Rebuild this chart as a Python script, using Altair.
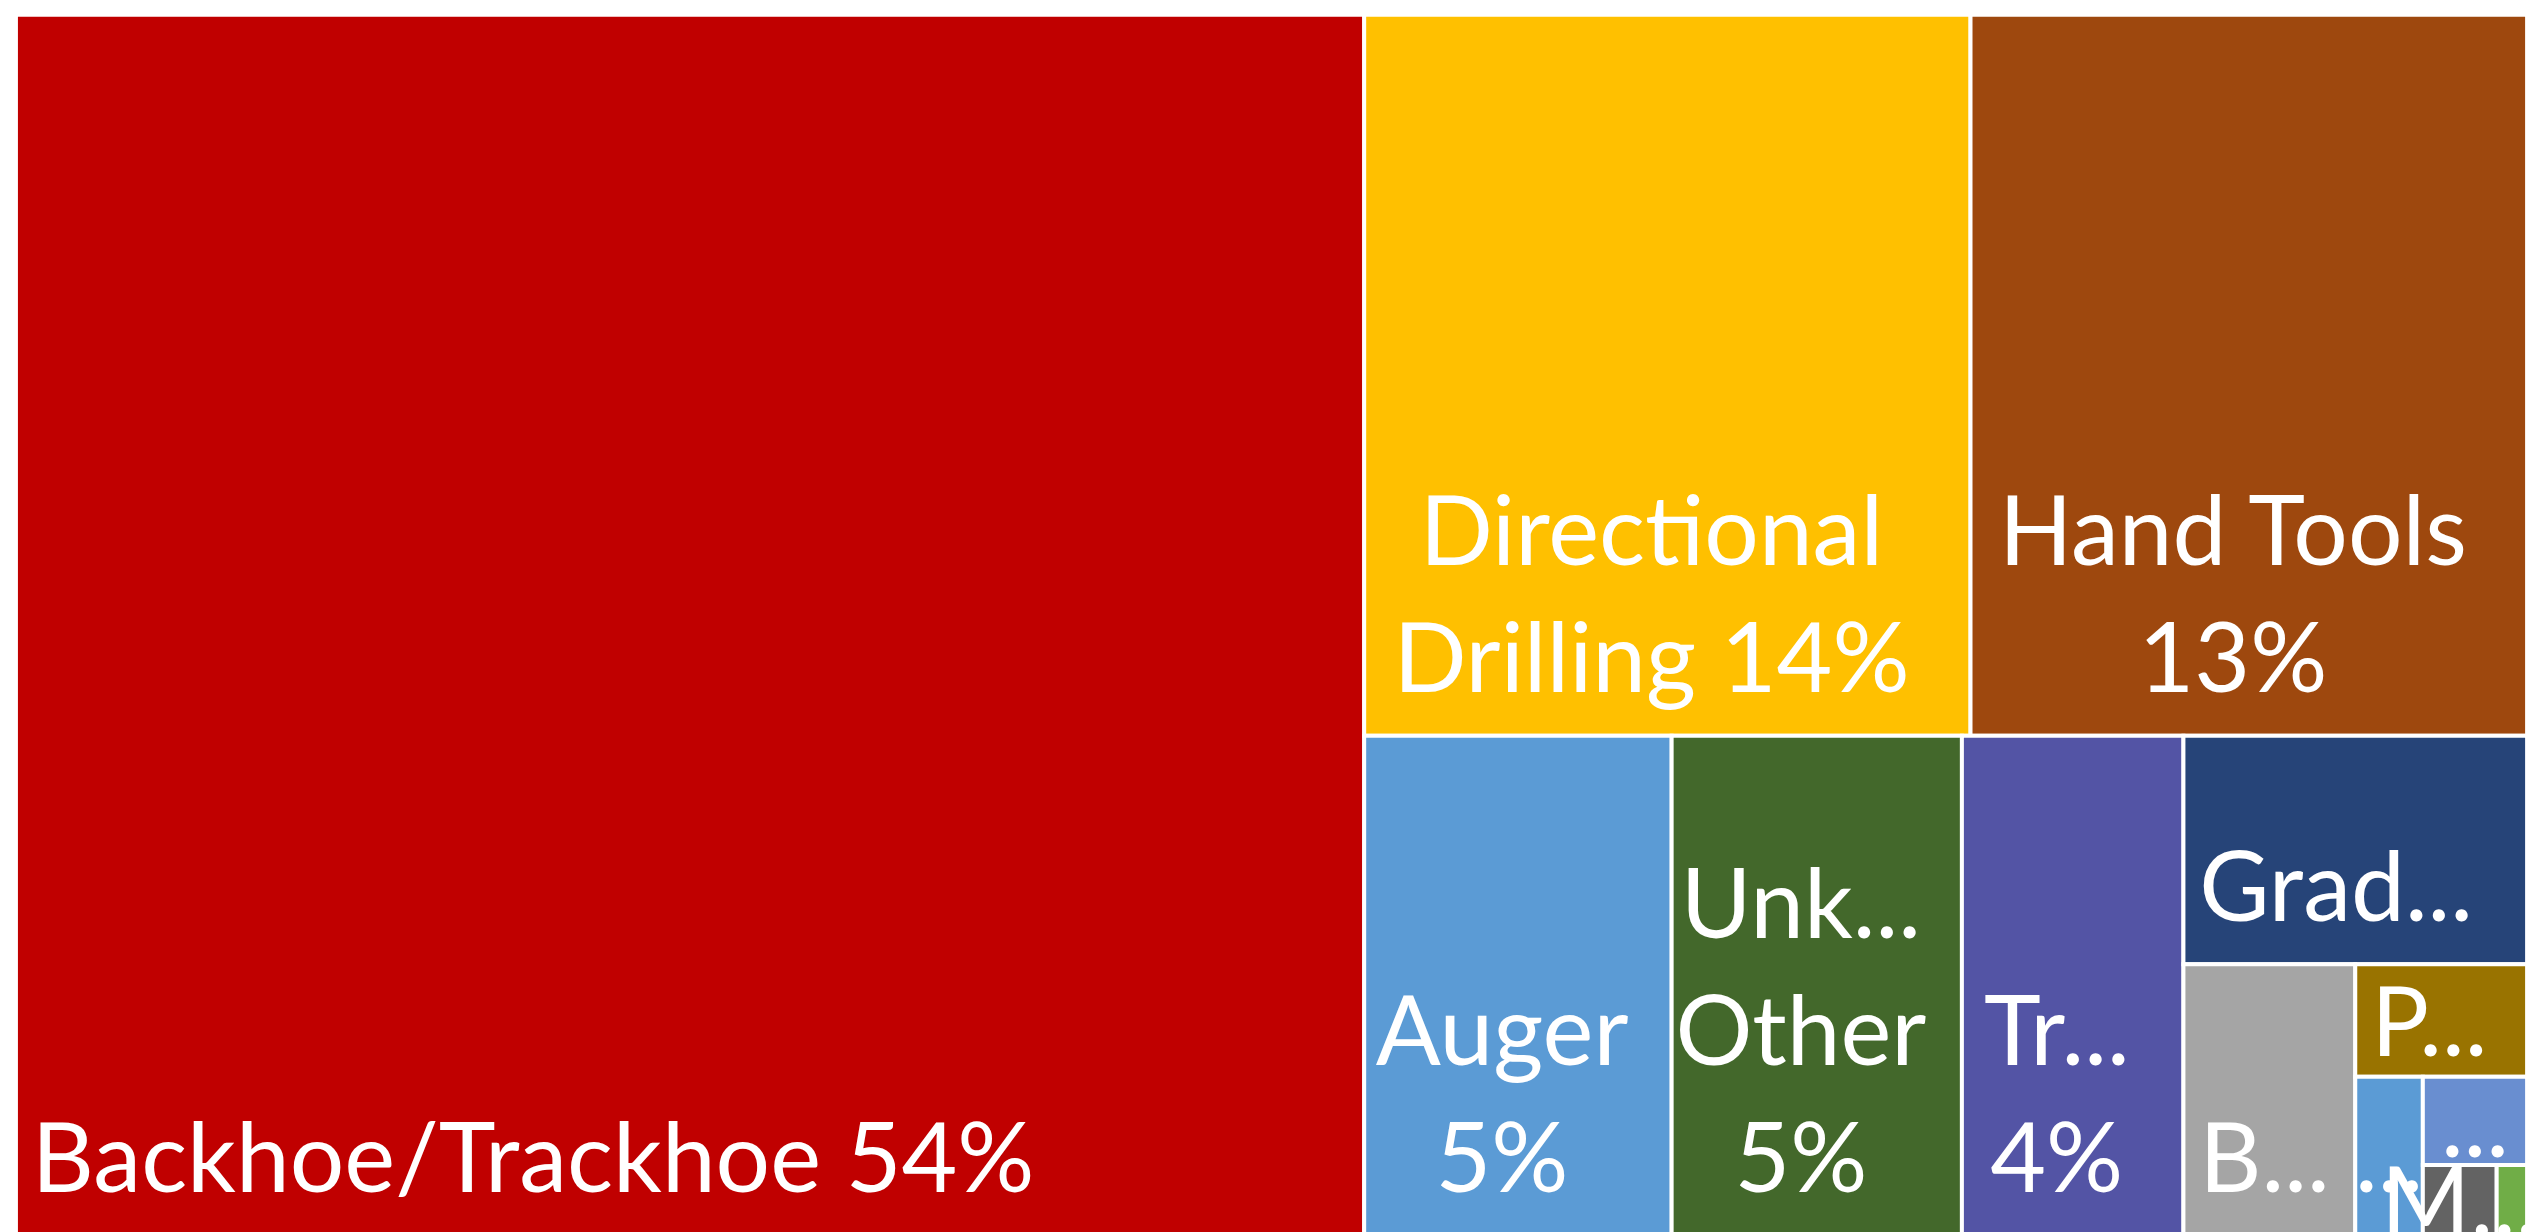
import altair as alt
import pandas as pd

# ---- data ----
categories = ["Backhoe/Trackhoe", "Directional Drilling", "Hand Tools", "Auger",
              "Unknown/Other", "Tr...", "Grad...", "B...", "P...", "... (1)",
              "... (2)", "M...", "... (3)"]
values = [53.68, 14.26, 13.09, 5.01, 4.73, 3.61, 2.56, 1.52, 0.63, 0.35, 0.30, 0.17, 0.07]
label_lines = [["Backhoe/Trackhoe 54%"], ["Directional", "Drilling 14%"], ["Hand Tools", "13%"],
               ["Auger", "5%"], ["Unk...", "Other", "5%"], ["Tr...", "4%"], ["Grad..."],
               ["B..."], ["P..."], ["..."], ["..."], ["M..."], []]
colors = ["#C00000", "#FFC000", "#9E480E", "#5B9BD5", "#43682B", "#5354A5", "#264478",
          "#A5A5A5", "#997300", "#5B9BD5", "#698ED0", "#636363", "#70AD47"]
# which categories share a strip of the treemap
strip_groups = [[0], [1, 2], [3], [4], [5], [6], [7], [8], [9], [10], [11], [12]]

# ---- style constants ----
CANVAS_W, CANVAS_H = 2530, 1230
FONT = "Lato"
FONT_SIZE = 97
LINE_H = 128
BOTTOM_PAD = 44
LEFT_PAD = 16

# ---- treemap layout (strips placed along the shorter side) ----
cells = {}
x, y, w, h = 0.0, 0.0, float(CANVAS_W), float(CANVAS_H)
remaining = sum(values)
for grp in strip_groups:
    gsum = sum(values[i] for i in grp)
    if w >= h:
        sw = w * gsum / remaining
        yy = y
        for i in grp:
            ih = h * values[i] / gsum
            cells[i] = (x, x + sw, yy, yy + ih)
            yy += ih
        x += sw
        w -= sw
    else:
        sh = h * gsum / remaining
        xx = x
        for i in grp:
            iw = w * values[i] / gsum
            cells[i] = (xx, xx + iw, y, y + sh)
            xx += iw
        y += sh
        h -= sh
    remaining -= gsum

rect_rows = []
text_rows = []
for i, name in enumerate(categories):
    x0, x1, y0, y1 = cells[i]
    rect_rows.append({"cat": name, "value": values[i], "x0": x0, "x1": x1, "y0": y0, "y1": y1})
    lines = label_lines[i]
    n = len(lines)
    if n == 0:
        continue
    cw, ch = x1 - x0, y1 - y0
    cx, cy = (x0 + x1) / 2, (y0 + y1) / 2
    for k, t in enumerate(lines):
        if ch >= 130:
            by = y1 - BOTTOM_PAD - (n - 1 - k) * LINE_H
        else:
            by = cy + 36
        if n == 1 and cw >= 150:
            text_rows.append({"t": t, "tx": x0 + LEFT_PAD, "ty": by, "al": "left"})
        else:
            text_rows.append({"t": t, "tx": cx - (16 if n > 1 else 0), "ty": by, "al": "center"})

rects = pd.DataFrame(rect_rows)
texts = pd.DataFrame(text_rows)

xs = alt.Scale(domain=[0, CANVAS_W], range=[0, CANVAS_W], nice=False, zero=False)
ys = alt.Scale(domain=[0, CANVAS_H], range=[0, CANVAS_H], nice=False, zero=False)

rect_layer = alt.Chart(rects).mark_rect(stroke="white", strokeWidth=4).encode(
    x=alt.X("x0:Q", scale=xs, axis=None),
    x2="x1:Q",
    y=alt.Y("y0:Q", scale=ys, axis=None),
    y2="y1:Q",
    color=alt.Color("cat:N", scale=alt.Scale(domain=categories, range=colors), legend=None),
    tooltip=["cat:N", "value:Q"],
)

def text_layer(al):
    return alt.Chart(texts).transform_filter(alt.datum.al == al).mark_text(
        align=al, baseline="alphabetic", font=FONT, fontSize=FONT_SIZE, color="white"
    ).encode(
        x=alt.X("tx:Q", scale=xs, axis=None),
        y=alt.Y("ty:Q", scale=ys, axis=None),
        text="t:N",
    )

chart = alt.layer(rect_layer, text_layer("left"), text_layer("center")).properties(
    width=CANVAS_W, height=CANVAS_H,
    padding={"left": 6, "top": 0, "right": 0, "bottom": 0},
    background="white",
).configure_view(stroke=None)

chart.save("out.html", embed_options={"renderer": "svg", "actions": False})
